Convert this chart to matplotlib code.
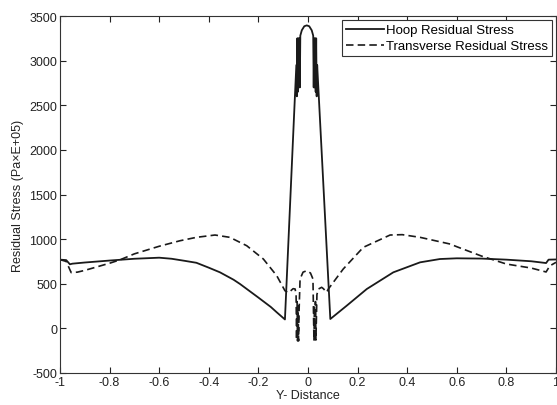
import numpy as np
import matplotlib
matplotlib.use("Agg")
from matplotlib import pyplot as plt
from matplotlib.ticker import FuncFormatter

# Hoop residual stress (solid)
hoop_x = [-1.0, -0.975, -0.96, -0.95, -0.9, -0.8, -0.7, -0.6, -0.55, -0.5,
          -0.45, -0.4, -0.355, -0.3, -0.274, -0.2, -0.15, -0.126, -0.093,
          -0.055, -0.047, -0.045, -0.043, -0.041, -0.039, -0.037, -0.035,
          -0.033, -0.031, -0.025, -0.015, -0.005, 0.005, 0.015, 0.021,
          0.023, 0.025, 0.027, 0.029, 0.031, 0.033, 0.035, 0.037, 0.042,
          0.09, 0.156, 0.237, 0.344, 0.452, 0.532, 0.6, 0.7, 0.8, 0.9,
          0.96, 0.97, 1.0]
hoop_y = [770, 765, 718, 725, 738, 760, 780, 792, 780, 758,
          735, 680, 628, 545, 497, 345, 240, 180, 100,
          2460, 2950, 2600, 3250, 2650, 3250, 2700, 3250,
          2700, 3280, 3340, 3385, 3395, 3385, 3340, 3280,
          2700, 3250, 2700, 3250, 2650, 3250, 2600, 2950, 2680,
          105, 254, 441, 628, 740, 777, 785, 782, 770, 752,
          732, 770, 772]

# Transverse residual stress (dashed)
trans_x = [-1.0, -0.975, -0.955, -0.93, -0.9, -0.85, -0.8, -0.76, -0.7,
           -0.6, -0.516, -0.45, -0.375, -0.315, -0.247, -0.18, -0.126,
           -0.093, -0.08, -0.07, -0.06, -0.052, -0.048, -0.046, -0.044,
           -0.042, -0.040, -0.038, -0.036, -0.032, -0.02, -0.005, 0.01,
           0.02, 0.022, 0.024, 0.026, 0.028, 0.030, 0.032, 0.036, 0.042,
           0.055, 0.062, 0.075, 0.082, 0.142, 0.223, 0.331, 0.38, 0.452,
           0.573, 0.6, 0.7, 0.8, 0.9, 0.96, 0.975, 1.0]
trans_y = [770, 750, 625, 630, 650, 690, 730, 766, 835,
           920, 982, 1020, 1046, 1020, 926, 777, 590,
           422, 400, 420, 445, 441, 380, -130, 300,
           -140, 250, -140, 200, 553, 630, 646, 620,
           553, 200, -140, 250, -140, 300, -130, 380, 441,
           460, 445, 404, 441, 665, 908, 1046, 1050, 1020,
           945, 915, 810, 721, 676, 632, 700, 740]

x_ticks = [-1, -0.8, -0.6, -0.4, -0.2, 0, 0.2, 0.4, 0.6, 0.8, 1]
y_ticks = [-500, 0, 500, 1000, 1500, 2000, 2500, 3000, 3500]

plt.rcParams["font.family"] = ["Liberation Sans", "DejaVu Sans"]
plt.rcParams["axes.unicode_minus"] = False

fig = plt.figure(figsize=(5.57, 4.06), dpi=100)
ax = fig.add_axes([60 / 557, 32 / 406, 496 / 557, 357 / 406])

line_col = "#1a1a1a"
ax.plot(hoop_x, hoop_y, "-", color=line_col, lw=1.3, label="Hoop Residual Stress")
ax.plot(trans_x, trans_y, color=line_col, lw=1.2, dashes=(4.5, 2.5),
        label="Transverse Residual Stress")

ax.set_xlim(-1, 1)
ax.set_ylim(-500, 3500)
ax.set_xticks(x_ticks)
ax.set_yticks(y_ticks)
ax.xaxis.set_major_formatter(FuncFormatter(lambda v, p: "%g" % v))
ax.tick_params(direction="in", length=4, width=0.8, top=True, right=True,
               labelsize=9, pad=2, colors="#222222")
for s in ax.spines.values():
    s.set_linewidth(0.8)
    s.set_color("#333333")

ax.set_xlabel("Y- Distance", fontsize=9, labelpad=1, color="#222222")
ax.set_ylabel("Residual Stress (Pa×E+05)", fontsize=9, labelpad=4, color="#222222")

leg = ax.legend(loc="upper right", fontsize=9.5, handlelength=2.9, handletextpad=0.15,
                borderaxespad=0.3, fancybox=False, framealpha=1,
                edgecolor="#333333", borderpad=0.3, labelspacing=0.3)
leg.get_frame().set_linewidth(0.8)

fig.savefig("out.png", dpi=100)
